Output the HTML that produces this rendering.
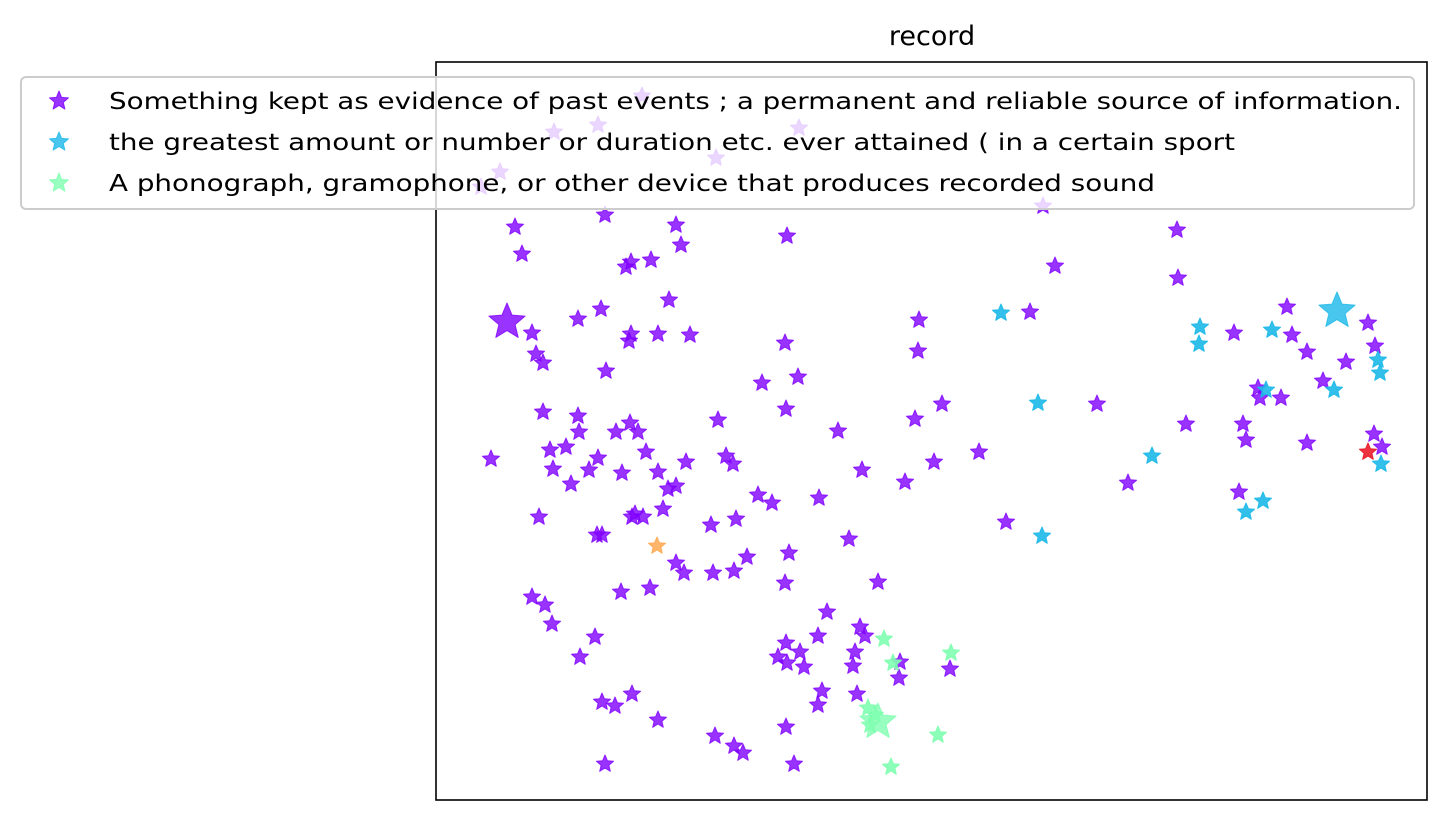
<!DOCTYPE html>
<html><head><meta charset="utf-8"><style>
body{margin:0;background:#fff}
svg{display:block;font-family:"DejaVu Sans","Liberation Sans",sans-serif}
</style></head><body>
<svg id="c" width="1448" height="821">
<rect x="0" y="0" width="1448" height="821" fill="#fff"/>
<text x="932" y="45" font-size="27" text-anchor="middle">record</text>
<g id="pts"></g>
<rect x="436" y="62" width="991" height="738" fill="none" stroke="#000" stroke-width="1.6"/>
<g id="leg"></g>
</svg>
<script>
const purpleX=[642,554,598,799,716,500,481,1043,605,515,676,787,681,522,631,651,626,1055,1177,1178,669,601,578,532,631,629,658,690,919,918,785,536,543,606,798,762,1030,1287,1234,1292,1307,1346,1368,1375,1323,1258,1260,1281,543,578,786,942,915,718,630,616,638,579,1097,1186,1243,1246,1307,1374,1382,838,550,566,598,646,726,733,686,491,553,589,622,658,979,934,862,571,668,676,905,1128,1239,758,772,819,663,635,643,632,539,711,736,1006,597,602,849,747,789,676,684,713,734,785,878,621,650,532,545,552,827,595,580,818,786,860,865,855,778,800,787,804,853,900,899,950,822,818,857,602,615,632,658,786,715,734,743,605,794];
const purpleY=[96,132,125,128,158,172,187,206,215,227,225,236,245,254,262,260,267,266,230,278,300,309,319,333,334,341,334,335,320,351,343,354,363,371,377,383,312,307,333,335,352,362,323,346,381,388,398,398,412,416,409,404,419,420,423,432,432,432,404,424,424,440,443,434,447,431,450,447,458,452,456,464,462,459,469,470,473,472,452,462,470,484,489,486,482,483,492,495,503,498,509,514,517,517,517,525,519,522,535,535,539,557,553,563,573,573,571,583,582,592,588,597,605,624,612,637,657,636,643,627,636,652,657,652,663,667,666,662,678,669,691,705,694,702,706,694,720,727,736,746,753,764,764];
const cyanX=[1001,1200,1199,1272,1378,1380,1334,1266,1038,1152,1381,1263,1246,1042];
const cyanY=[313,327,344,330,360,373,390,390,403,456,464,501,512,536];
const greenX=[884,893,951,868,875,938,891,870];
const greenY=[639,663,653,708,715,735,767,725];
const bigX=[507,1337,878];
const bigY=[322,311,722];
const oddX=[657,1368];
const oddY=[546,452];
const X0=436,W=991,Y0=62,H=738,DX=[436,1427],DY=[62,800];
const xScale=v=>X0+(v-DX[0])/(DX[1]-DX[0])*W;
const yScale=v=>Y0+(v-DY[0])/(DY[1]-DY[0])*H;
const NS="http://www.w3.org/2000/svg";
function starPts(cx,cy,r){let p=[];for(let i=0;i<10;i++){const a=-Math.PI/2+i*Math.PI/5;const rr=i%2?r*0.45:r;p.push((cx+rr*Math.cos(a)).toFixed(1)+","+(cy+rr*Math.sin(a)).toFixed(1));}return p.join(" ");}
function star(g,cx,cy,r,col,op){const s=document.createElementNS(NS,"polygon");s.setAttribute("points",starPts(cx,cy,r));s.setAttribute("fill",col);s.setAttribute("fill-opacity",op);s.setAttribute("stroke",col);s.setAttribute("stroke-opacity",op);s.setAttribute("stroke-width","1");s.setAttribute("stroke-linejoin","round");g.appendChild(s);return s;}
const g=document.getElementById("pts");
const P="#8000ff",C="#1cb8e8",G="#80ffb0";
purpleX.forEach((x,i)=>{const s=star(g,xScale(x),yScale(purpleY[i]),9,P,0.8);

});
cyanX.forEach((x,i)=>{const s=star(g,xScale(x),yScale(cyanY[i]),9,C,0.9);

});
greenX.forEach((x,i)=>{const s=star(g,xScale(x),yScale(greenY[i]),9,G,0.9);

});
const bigCol=[P,C,G];
bigX.forEach((x,i)=>{const s=star(g,xScale(x),yScale(bigY[i]),19,bigCol[i],0.8);

});
const oddCol=["#ffa850","#e8101e"];
oddX.forEach((x,i)=>{const s=star(g,xScale(x),yScale(oddY[i]),9,oddCol[i],0.85);

});
const leg=document.getElementById("leg");
const box=document.createElementNS(NS,"rect");
box.setAttribute("x",21);box.setAttribute("y",77);box.setAttribute("width",1393);box.setAttribute("height",132);box.setAttribute("rx",5);
box.setAttribute("fill","#fff");box.setAttribute("fill-opacity","0.8");box.setAttribute("stroke","#ccc");box.setAttribute("stroke-width","2");


leg.appendChild(box);
const labels=["Something kept as evidence of past events ; a permanent and reliable source of information.","the greatest amount or number or duration etc. ever attained ( in a certain sport","A phonograph, gramophone, or other device that produces recorded sound"];
const lens=[1293,1126,1046];
const cols=[P,C,G];
labels.forEach((t,i)=>{const y=101+i*41;
const s=star(leg,59,y,10,cols[i],0.8);


const tx=document.createElementNS(NS,"text");tx.setAttribute("x",109);tx.setAttribute("y",y+8);tx.setAttribute("font-size","23");
tx.setAttribute("textLength",lens[i]);tx.setAttribute("lengthAdjust","spacingAndGlyphs");tx.textContent=t;


leg.appendChild(tx);});
</script>
</body></html>
